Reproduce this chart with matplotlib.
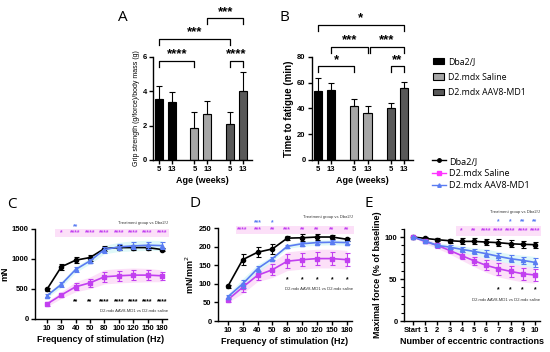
import matplotlib
matplotlib.use('Agg')
import matplotlib.pyplot as plt
import numpy as np
from matplotlib.patches import Patch
from matplotlib.lines import Line2D

plt.rcParams['font.family'] = ['Liberation Sans', 'DejaVu Sans']

# ---------------- data ----------------
groups = ['Dba2/J', 'D2.mdx Saline', 'D2.mdx AAV8-MD1']
ages = ['5', '13']

# panel A: grip strength, bars in order (group, age)
grip_mean = [3.57, 3.39, 1.89, 2.69, 2.09, 4.03]
grip_err = [0.76, 0.55, 0.92, 0.72, 0.72, 1.10]
# panel B: time to fatigue
fatigue_mean = [53.8, 54.5, 41.8, 36.6, 40.3, 55.8]
fatigue_err = [9.8, 5.2, 5.2, 5.4, 4.1, 4.7]

A_brackets = [(0, 2, 5.77, '****'), (4, 5, 5.77, '****'), (0, 4, 7.05, '***'), (3, 5, 8.27, '***')]
B_brackets = [(0, 2, 73, '*'), (4, 5, 73, '**'), (1, 3, 87.8, '***'), (3.1, 5, 87.8, '***'), (0, 5, 104.9, '*')]

# panel C: absolute force (mN)
freq = ['10', '30', '40', '50', '80', '100', '120', '150', '180']
C_dba = [493, 869, 980, 1024, 1173, 1190, 1190, 1190, 1157]
C_dba_err = [25, 55, 55, 50, 40, 40, 40, 40, 30]
C_sal = [249, 399, 537, 603, 703, 720, 731, 731, 720]
C_sal_err = [30, 40, 60, 70, 85, 85, 85, 80, 70]
C_aav = [387, 576, 825, 969, 1157, 1201, 1218, 1229, 1223]
C_aav_err = [25, 35, 35, 35, 50, 55, 60, 60, 60]
C_top_pink = ['', '*', '****', '****', '****', '****', '****', '****', '****']
C_top_blue = ['', '', '**', '', '', '', '', '', '']
C_bottom = ['', '', '**', '**', '****', '****', '****', '****', '****']

# panel D: specific force (mN/mm2)
D_dba = [93, 165, 185, 194, 223, 224, 226, 226, 220]
D_dba_err = [3, 14, 13, 14, 6, 9, 8, 6, 4]
D_sal = [57, 91, 123, 138, 161, 165, 168, 168, 165]
D_sal_err = [5, 12, 12, 15, 18, 18, 18, 18, 18]
D_aav = [65, 100, 141, 168, 201, 208, 211, 212, 211]
D_aav_err = [5, 10, 8, 5, 4, 5, 5, 5, 5]
D_top_pink = ['', '****', '***', '**', '***', '**', '**', '**', '**']
D_top_blue = ['', '', '***', '*', '', '', '', '', '']
D_bottom = ['', '', '', '', '*', '*', '*', '*', '*']

# panel E: eccentric contractions (% of baseline)
ecc = ['Start', '1', '2', '3', '4', '5', '6', '7', '8', '9', '10']
E_dba = [100, 98.4, 96.8, 95.6, 94.8, 94.8, 94.0, 93.3, 92.0, 91.3, 90.9]
E_dba_err = [0, 1.5, 2, 2.5, 3.5, 3.5, 4, 4, 4, 4, 3.5]
E_sal = [100, 94.8, 90.0, 84.1, 77.8, 71.8, 66.3, 62.3, 59.1, 56.3, 54.8]
E_sal_err = [0, 2, 2.5, 3, 4, 5, 6, 7, 7, 7, 7]
E_aav = [100, 95.2, 90.0, 88.0, 85.3, 82.9, 80.2, 77.0, 74.2, 72.2, 69.8]
E_aav_err = [0, 1.5, 2, 2.5, 3, 3, 4, 4, 4, 4.5, 5]
E_top_pink = ['', '', '', '', '*', '**', '****', '****', '****', '****', '****']
E_top_blue = ['', '', '', '', '', '', '', '*', '*', '**', '**']
E_bottom = ['', '', '', '', '', '', '', '*', '*', '*', '*']

# ---------------- style ----------------
bar_colors = ['#000000', '#000000', '#a6a6a6', '#a6a6a6', '#595959', '#595959']
c_dba = '#000000'
c_sal = '#c23ff0'
c_aav = '#5a7cf2'
pink_fill = '#fbd3f6'
cyan_fill = '#d2f6f6'
bar_x = np.array([0, 1, 2.75, 3.75, 5.5, 6.5])

fig = plt.figure(figsize=(5.5, 3.52), dpi=100)


def style_axes(ax):
    for s in ['top', 'right']:
        ax.spines[s].set_visible(False)
    for s in ['left', 'bottom']:
        ax.spines[s].set_linewidth(1.0)
    ax.tick_params(width=1.0, length=3, labelsize=5.5, pad=1.5)
    for lab in ax.get_xticklabels() + ax.get_yticklabels():
        lab.set_fontweight('bold')


def bracket(ax, x1, x2, y, label, drop):
    ax.plot([x1, x1, x2, x2], [y - drop, y, y, y - drop], color='black', lw=0.9, clip_on=False)
    ax.text((x1 + x2) / 2, y + drop * 0.05, label, ha='center', va='bottom', fontsize=9.5,
            fontweight='bold', clip_on=False)


def bar_panel(rect, means, errs, ylim, yticks, ylabel, ylabel_size, brackets, drop):
    ax = fig.add_axes(rect)
    ax.bar(bar_x, means, width=0.62, color=bar_colors, edgecolor='black', linewidth=0.8)
    ax.errorbar(bar_x, means, yerr=[np.zeros(len(errs)), errs], fmt='none', ecolor='black',
                elinewidth=0.8, capsize=2, capthick=0.8)
    ax.set_xlim(-0.47, 7.2)
    ax.set_ylim(*ylim)
    ax.set_yticks(yticks)
    ax.set_xticks(bar_x)
    ax.set_xticklabels(ages * 3)
    ax.set_ylabel(ylabel, fontsize=ylabel_size, labelpad=2)
    ax.set_xlabel('Age (weeks)', fontsize=6.5, fontweight='bold', labelpad=2)
    style_axes(ax)
    for b in brackets:
        x1 = np.interp(b[0], range(6), bar_x)
        x2 = np.interp(b[1], range(6), bar_x)
        bracket(ax, x1, x2, b[2], b[3], drop)
    return ax


axA = bar_panel([0.278, 0.5455, 0.18, 0.2926], grip_mean, grip_err, (0, 6), [0, 2, 4, 6],
                'Grip strength (g/force)/body mass (g)', 5, A_brackets, 0.35)
axB = bar_panel([0.567, 0.5455, 0.184, 0.2926], fatigue_mean, fatigue_err, (0, 80),
                [0, 20, 40, 60, 80], 'Time to fatigue (min)', 7, B_brackets, 4.5)
axB.yaxis.label.set_fontweight('bold')


def line_panel(rect, cats, dba, dba_e, sal, sal_e, aav, aav_e, ylim, yticks, ylabel, xlabel,
               pink, blue, bottom, rows, xlim):
    ax = fig.add_axes(rect)
    x = np.arange(len(cats))
    sal, sal_e, aav, aav_e = map(np.array, (sal, sal_e, aav, aav_e))
    ax.fill_between(x, sal - sal_e * 1.4, sal + sal_e * 1.4, color=pink_fill, lw=0, alpha=0.7)
    ax.fill_between(x, aav - aav_e * 1.4, aav + aav_e * 1.4, color=cyan_fill, lw=0, alpha=0.7)
    first = [i for i, s in enumerate(pink) if s][0]
    ax.fill_between([first - 0.45, len(cats) - 0.5], rows[0] - rows[4], rows[0] + rows[4],
                    color=pink_fill, lw=0, alpha=0.7, clip_on=False)
    ax.errorbar(x, dba, yerr=dba_e, color=c_dba, marker='o', ms=3, lw=1.2, elinewidth=0.8,
                capsize=1.8, capthick=0.8, zorder=3)
    ax.errorbar(x, sal, yerr=sal_e, color=c_sal, marker='s', ms=3, lw=1.2, elinewidth=0.8,
                capsize=1.8, capthick=0.8, zorder=4)
    ax.errorbar(x, aav, yerr=aav_e, color=c_aav, marker='^', ms=3, lw=1.2, elinewidth=0.8,
                capsize=1.8, capthick=0.8, zorder=5)
    ax.set_xlim(*xlim)
    ax.set_ylim(*ylim)
    ax.set_yticks(yticks)
    ax.set_xticks(x)
    ax.set_xticklabels(cats)
    ax.set_ylabel(ylabel, fontsize=6.5, fontweight='bold', labelpad=2)
    ax.set_xlabel(xlabel, fontsize=6.5, fontweight='bold', labelpad=2)
    style_axes(ax)
    for i in range(len(cats)):
        if pink[i]:
            ax.text(i, rows[0], pink[i], color=c_sal, fontsize=4.8, ha='center', va='center',
                    fontweight='bold', clip_on=False)
        if blue[i]:
            ax.text(i, rows[1], blue[i], color=c_aav, fontsize=4.8, ha='center', va='center',
                    fontweight='bold', clip_on=False)
        if bottom[i]:
            ax.text(i, rows[3], bottom[i], color='black', fontsize=4.8, ha='center', va='center',
                    fontweight='bold')
    ax.text(len(cats) - 0.6, rows[2], 'Treatment group vs Dba2/J', fontsize=3, ha='right',
            va='center', color='#333333', clip_on=False)
    ax.text(len(cats) - 0.6, rows[5], 'D2.mdx AAV8-MD1 vs D2.mdx saline', fontsize=3,
            ha='right', va='center', color='#333333')
    return ax


axC = line_panel([0.0636, 0.0938, 0.24, 0.2557], freq, C_dba, C_dba_err, C_sal, C_sal_err,
                 C_aav, C_aav_err, (0, 1500), [0, 500, 1000, 1500], 'mN',
                 'Frequency of stimulation (Hz)', C_top_pink, C_top_blue, C_bottom,
                 (1430, 1530, 1600, 280, 70, 140), (-0.83, 8.35))
axD = line_panel([0.396, 0.088, 0.2436, 0.264], freq, D_dba, D_dba_err, D_sal, D_sal_err,
                 D_aav, D_aav_err, (0, 250), [0, 50, 100, 150, 200, 250], 'mN/mm$^2$',
                 'Frequency of stimulation (Hz)', D_top_pink, D_top_blue, D_bottom,
                 (245, 264, 279, 110, 11, 86), (-0.67, 8.33))
axE = line_panel([0.7345, 0.088, 0.247, 0.2625], ecc, E_dba, E_dba_err, E_sal, E_sal_err,
                 E_aav, E_aav_err, (0, 110), [0, 50, 100], 'Maximal force (% of baseline)',
                 'Number of eccentric contractions', E_top_pink, E_top_blue, E_bottom,
                 (107, 118, 130, 37, 6, 25), (-0.74, 10.4))
axE.set_yticks(np.arange(0, 111, 10), minor=True)
axE.tick_params(which='minor', length=2, width=0.8)

# panel letters
for lab, x, y in [('A', 0.224, 0.949), ('B', 0.518, 0.949), ('C', 0.022, 0.418),
                  ('D', 0.355, 0.423), ('E', 0.671, 0.423)]:
    fig.text(x, y, lab, fontsize=11, family='Open Sans', ha='center', va='center')

# legends
bar_handles = [Patch(facecolor=c, edgecolor='black', linewidth=0.8)
               for c in ['#000000', '#a6a6a6', '#595959']]
fig.legend(bar_handles, groups, loc='upper left', bbox_to_anchor=(0.787, 0.838), frameon=False,
           prop={'family': 'Open Sans', 'size': 6.3}, handlelength=1.3, handleheight=0.8,
           handletextpad=0.4, labelspacing=0.75, borderaxespad=0, borderpad=0)
line_handles = [Line2D([0], [0], color=c_dba, marker='o', ms=2.5, lw=1),
                Line2D([0], [0], color='#ff33ff', marker='s', ms=2.5, lw=1),
                Line2D([0], [0], color=c_aav, marker='^', ms=2.5, lw=1)]
fig.legend(line_handles, groups, loc='upper left', bbox_to_anchor=(0.785, 0.555), frameon=False,
           prop={'family': 'Open Sans', 'size': 6.6}, handlelength=1.5,
           handletextpad=0.4, labelspacing=0.35, borderaxespad=0, borderpad=0)

fig.savefig('out.png', dpi=100)
